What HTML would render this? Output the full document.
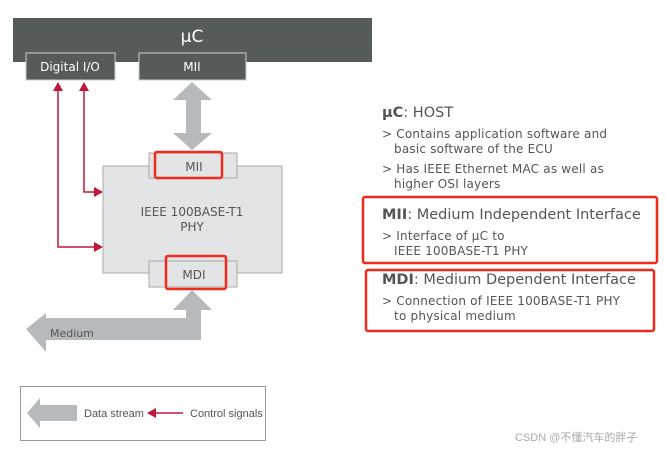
<!DOCTYPE html>
<html><head><meta charset="utf-8"><style>
body{margin:0;background:#fff;width:665px;height:450px;overflow:hidden;position:relative;font-family:"DejaVu Sans","Liberation Sans",sans-serif;color:#555}
.a{position:absolute}
.t{font-size:12px;line-height:15px;color:#555;letter-spacing:0.2px}
.h{font-size:14.5px;color:#555}
</style></head><body>
<svg class="a" style="left:0;top:0" width="665" height="450">
<rect x="13" y="18" width="359" height="44" fill="#555a5b"/>
<rect x="26" y="53" width="89" height="27" fill="#555a5b" stroke="#ccc" stroke-width="1"/>
<rect x="139" y="53" width="107" height="27" fill="#555a5b" stroke="#ccc" stroke-width="1"/>
<text x="192" y="42" fill="#fff" font-size="17" text-anchor="middle">µC</text>
<text x="70" y="71" fill="#fff" font-size="12" text-anchor="middle">Digital I/O</text>
<text x="192" y="71" fill="#fff" font-size="12" text-anchor="middle">MII</text>
<polygon points="192,82 212,100 201,100 201,133 212,133 192,150 173,133 186,133 186,100 173,100" fill="#b7babc"/>
<rect x="103" y="166" width="179" height="107" fill="#e3e4e5" stroke="#aaa"/>
<rect x="149" y="153" width="88" height="25" fill="#e3e4e5" stroke="#aaa"/>
<rect x="149" y="261" width="88" height="26" fill="#e3e4e5" stroke="#aaa"/>
<text x="194" y="171" font-size="12" fill="#555" text-anchor="middle">MII</text>
<text x="194" y="279" font-size="12" fill="#555" text-anchor="middle">MDI</text>
<text x="192" y="216" font-size="12" fill="#555" text-anchor="middle">IEEE 100BASE-T1</text>
<text x="192" y="231" font-size="12" fill="#555" text-anchor="middle">PHY</text>
<rect x="155" y="152" width="67" height="26" fill="none" stroke="#f02a1c" stroke-width="2.5" rx="2"/>
<rect x="166" y="256" width="60" height="33" fill="none" stroke="#f02a1c" stroke-width="2.5" rx="2"/>
<polygon points="192,290 212,310 201,310 201,340 46,340 46,352 26,329 46,313 46,318 186,318 186,310 173,310" fill="#b7babc"/>
<text x="50" y="337" font-size="11" fill="#555">Medium</text>
<g stroke="#c0163a" stroke-width="1.5" fill="none"><polyline points="58,88 58,247 96,247"/><polyline points="84,88 84,192 96,192"/></g>
<g fill="#c0163a"><polygon points="58,82 53,91 63,91"/><polygon points="84,82 79,91 89,91"/><polygon points="103,247 94,242 94,252"/><polygon points="103,192 94,187 94,197"/></g>
<rect x="20.5" y="386.5" width="245" height="54" fill="none" stroke="#999"/>
<polygon points="27,413 40,398 40,405 77,405 77,421 40,421 40,428" fill="#b7babc"/>
<text x="84" y="417" font-size="11" fill="#555" font-family="Liberation Sans,sans-serif">Data stream</text>
<line x1="152" y1="413" x2="183" y2="413" stroke="#c0163a" stroke-width="1.5"/>
<polygon points="147,413 156,408 156,418" fill="#c0163a"/>
<text x="190" y="417" font-size="11" fill="#555" font-family="Liberation Sans,sans-serif">Control signals</text>
<text x="515" y="441" font-size="11" fill="#aaa" font-family="Liberation Sans,Noto Sans CJK SC,sans-serif">CSDN @不懂汽车的胖子</text>
<rect x="363" y="197" width="294" height="66" fill="none" stroke="#f02a1c" stroke-width="2.5" rx="2"/>
<rect x="366" y="270" width="288" height="61" fill="none" stroke="#f02a1c" stroke-width="2.5" rx="2"/>
</svg>
<div class="a h" style="left:382px;top:105px"><b>µC</b>: HOST</div>
<div class="a t" style="left:382px;top:127px">&gt; Contains application software and<br>&nbsp;&nbsp;&nbsp;basic software of the ECU</div>
<div class="a t" style="left:382px;top:162px">&gt; Has IEEE Ethernet MAC as well as<br>&nbsp;&nbsp;&nbsp;higher OSI layers</div>
<div class="a h" style="left:382px;top:207px"><b>MII</b>: Medium Independent Interface</div>
<div class="a t" style="left:382px;top:229px">&gt; Interface of µC to<br>&nbsp;&nbsp;&nbsp;IEEE 100BASE-T1 PHY</div>
<div class="a h" style="left:382px;top:272px"><b>MDI</b>: Medium Dependent Interface</div>
<div class="a t" style="left:382px;top:294px">&gt; Connection of IEEE 100BASE-T1 PHY<br>&nbsp;&nbsp;&nbsp;to physical medium</div>
</body></html>
